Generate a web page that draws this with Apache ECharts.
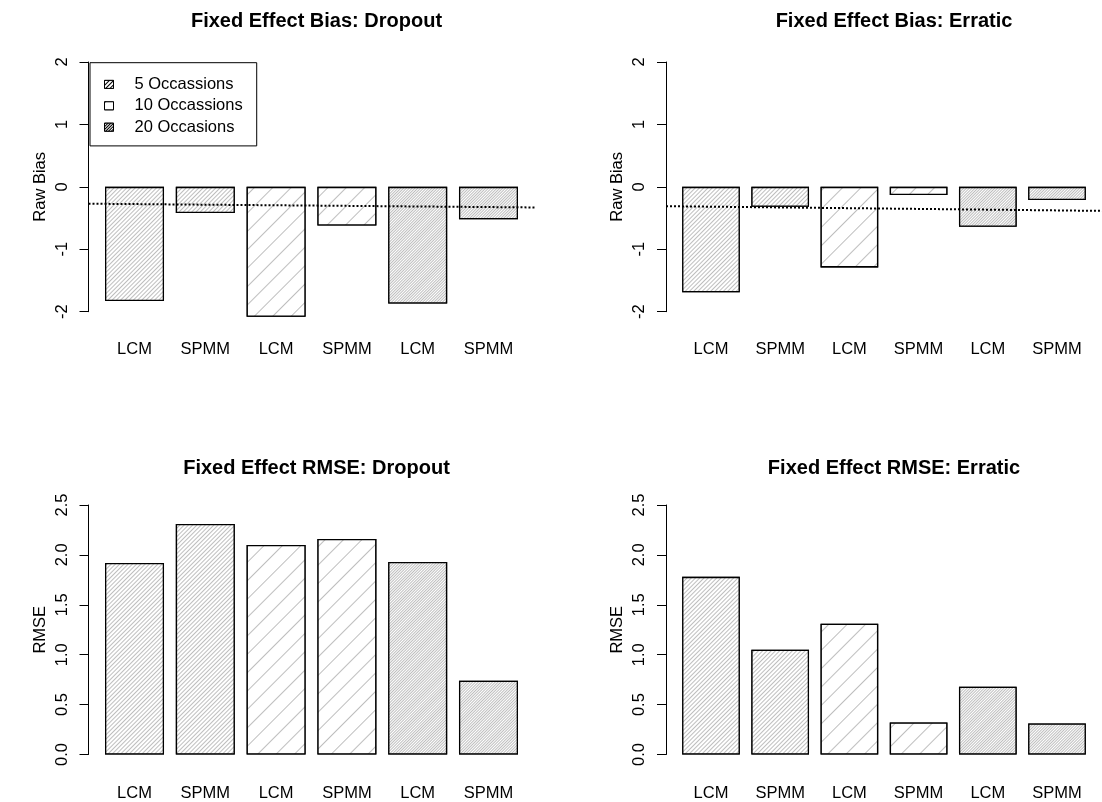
<!DOCTYPE html>
<html><head><meta charset="utf-8">
<script src="https://cdn.jsdelivr.net/npm/echarts@6/dist/echarts.min.js"></script>
<style>html,body{margin:0;padding:0;background:#fff}#c{width:1102px;height:802px}</style>
</head><body><div id="c"></div>
<script>
// ---- data ----
const categories = ['LCM', 'SPMM', 'LCM', 'SPMM', 'LCM', 'SPMM'];
const groups = ['5 Occassions', '10 Occassions', '20 Occasions'];
const biasDropout = [-1.83, -0.42, -2.08, -0.62, -1.87, -0.52];
const biasErratic = [-1.69, -0.32, -1.29, -0.13, -0.64, -0.21];
const rmseDropout = [1.92, 2.31, 2.10, 2.16, 1.93, 0.74];
const rmseErratic = [1.78, 1.05, 1.31, 0.32, 0.68, 0.31];
const biasDropoutTrend = [-0.27, -0.33];
const biasErraticTrend = [-0.31, -0.385];
const biasTicks = [-2, -1, 0, 1, 2];
const rmseTicks = [0.0, 0.5, 1.0, 1.5, 2.0, 2.5];

// ---- layout ----
const FONT = '"Liberation Sans", Arial, Helvetica, sans-serif';
const XMIN = -0.08, XMAX = 7.48;
const center = i => 0.7 + 1.2 * i;
const centers = categories.map((c, i) => center(i));

const panels = [
  {title: 'Fixed Effect Bias: Dropout', values: biasDropout, trend: biasDropoutTrend, yName: 'Raw Bias', ticks: biasTicks, dec: 0,
   grid: {left: 88.5, top: 62, width: 446, height: 249.7}, titleTop: 6, labelMargin: 29},
  {title: 'Fixed Effect Bias: Erratic', values: biasErratic, trend: biasErraticTrend, yName: 'Raw Bias', ticks: biasTicks, dec: 0,
   grid: {left: 666, top: 62, width: 446, height: 249.7}, titleTop: 6, labelMargin: 29},
  {title: 'Fixed Effect RMSE: Dropout', values: rmseDropout, trend: null, yName: 'RMSE', ticks: rmseTicks, dec: 1,
   grid: {left: 88.5, top: 505, width: 446, height: 249.5}, titleTop: 453, labelMargin: 30},
  {title: 'Fixed Effect RMSE: Erratic', values: rmseErratic, trend: null, yName: 'RMSE', ticks: rmseTicks, dec: 1,
   grid: {left: 666, top: 505, width: 446, height: 249.5}, titleTop: 453, labelMargin: 30}
];

const hatch = (gap, color) => ({
  symbol: 'rect', symbolSize: 1, dashArrayX: [1, 0], dashArrayY: [1, gap],
  rotation: -Math.PI / 4, color: color, backgroundColor: '#ffffff'
});
const gaps = [2, 12, 1];

const txt = {fontFamily: FONT, color: '#000', fontSize: 16.5};

const option = {
  animation: false,
  backgroundColor: '#ffffff',
  title: panels.map(p => ({
    text: p.title, left: p.grid.left + p.grid.width / 2, top: p.titleTop, textAlign: 'center',
    textStyle: {fontFamily: FONT, color: '#000', fontSize: 20, fontWeight: 'bold'}
  })),
  legend: {
    orient: 'vertical', left: 90, top: 62.7, padding: [11, 14, 8, 14],
    itemWidth: 9, itemHeight: 8, itemGap: 0, icon: 'rect',
    borderColor: '#000', borderWidth: 1, backgroundColor: '#fff',
    textStyle: Object.assign({}, txt, {lineHeight: 21.4, padding: [0, 0, 0, 16]}),
    selectedMode: false,
    data: groups.map((g, i) => ({name: g, itemStyle: {borderWidth: 1, borderColor: '#000', decal: hatch(gaps[i], '#000')}}))
  },
  grid: panels.map(p => Object.assign({containLabel: false}, p.grid)),
  xAxis: panels.map((p, i) => ({
    type: 'value', gridIndex: i, min: XMIN, max: XMAX,
    axisLine: {show: false, onZero: false}, axisTick: {show: false}, splitLine: {show: false},
    axisLabel: Object.assign({}, txt, {
      customValues: centers, margin: p.labelMargin,
      formatter: v => categories[Math.round((v - 0.7) / 1.2)] || ''
    })
  })),
  yAxis: panels.map((p, i) => ({
    type: 'value', gridIndex: i, min: p.ticks[0], max: p.ticks[p.ticks.length - 1],
    interval: p.ticks[1] - p.ticks[0],
    axisLine: {show: true, onZero: false, lineStyle: {color: '#000', width: 1}},
    axisTick: {show: true, length: 9, lineStyle: {color: '#000', width: 1}},
    splitLine: {show: false},
    axisLabel: Object.assign({}, txt, {rotate: 90, margin: 18, formatter: v => Number(v).toFixed(p.dec)}),
    name: p.yName, nameLocation: 'middle', nameGap: 40, nameRotate: 90,
    nameTextStyle: Object.assign({}, txt)
  })),
  series: []
};

panels.forEach((p, pi) => {
  groups.forEach((g, gi) => {
    option.series.push({
      type: 'bar', name: g, xAxisIndex: pi, yAxisIndex: pi, stack: 'p' + pi,
      barWidth: '83.333%', clip: false, silent: true, z: 2,
      itemStyle: {color: '#fff', borderColor: '#000', borderWidth: 1.3, decal: hatch(gaps[gi], '#bebebe')},
      emphasis: {disabled: true},
      data: [0, 1].map(k => [center(2 * gi + k), p.values[2 * gi + k]])
    });
  });
  if (p.trend) {
    option.series.push({
      type: 'line', xAxisIndex: pi, yAxisIndex: pi, symbol: 'none', silent: true, clip: false, z: 5,
      lineStyle: {color: '#000', width: 2, type: [2, 2]},
      data: [[XMIN, p.trend[0]], [XMAX, p.trend[1]]]
    });
  }
});

const chart = echarts.init(document.getElementById('c'), null, {renderer: 'canvas'});
chart.setOption(option);
</script>
</body></html>
